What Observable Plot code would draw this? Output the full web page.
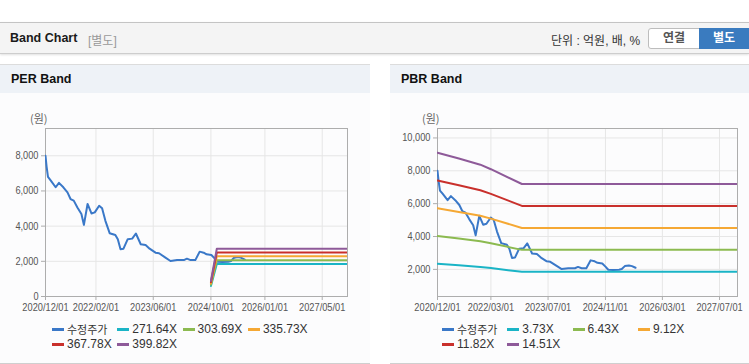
<!DOCTYPE html>
<html><head><meta charset="utf-8">
<script src="https://cdn.jsdelivr.net/npm/d3@7"></script>
<script src="https://cdn.jsdelivr.net/npm/@observablehq/plot@0.6"></script>
<style>
body{margin:0;width:749px;height:364px;background:#fff;position:relative;overflow:hidden;font-family:"Liberation Sans",Arial,"Noto Sans CJK KR",sans-serif;}
.abs{position:absolute;}
#hdr{left:0;top:22px;width:749px;height:30px;background:#f4f4f4;border-top:1px solid #c4c4c4;border-bottom:1px solid #cdcdcd;box-shadow:0 1px 2px rgba(0,0,0,0.12);}
.panel{top:64px;height:298px;background:#fcfcfd;border-top:1px solid #dcdcdc;border-bottom:1px solid #cfcfcf;}
.ptitle{position:absolute;left:0;top:0;right:0;height:28px;background:#eef2f7;}
.ptitle span{position:absolute;left:11px;top:7px;font-weight:bold;font-size:12.5px;color:#111;}
.unit{font-size:11px;color:#666;font-family:"Noto Sans CJK KR",sans-serif;}
.leg{font-size:12px;color:#333;display:flex;align-items:center;height:14px;}
.leg .sw{display:inline-block;width:12px;height:3px;margin-right:3px;}
.ko{font-family:"Noto Sans CJK KR",sans-serif;font-size:11px;}
.chart{position:absolute;top:100px;}
</style></head>
<body>
<div id="hdr" class="abs">
  <span class="abs" style="left:10px;top:8px;font-weight:bold;font-size:12.5px;color:#1a1a1a;">Band Chart</span>
  <span class="abs" style="left:88px;top:8px;font-size:12px;color:#999;">[별도]</span>
  <span class="abs" style="left:551px;top:8px;font-size:12px;color:#333;">단위 : 억원, 배, %</span>
  <div class="abs" style="left:648px;top:5px;width:50px;height:19px;background:#fff;border:1px solid #bdbdbd;border-radius:3px 0 0 3px;text-align:center;line-height:19px;font-size:12px;font-weight:bold;color:#555;">연결</div>
  <div class="abs" style="left:699px;top:5px;width:50px;height:21px;background:#3a7bbf;text-align:center;line-height:21px;font-size:12px;font-weight:bold;color:#fff;">별도</div>
</div>

<div class="abs panel" style="left:0;width:370px;"><div class="ptitle"><span>PER Band</span></div></div>
<div class="abs panel" style="left:390px;width:359px;"><div class="ptitle"><span>PBR Band</span></div></div>

<span class="abs unit" style="left:30px;top:110px;">(원)</span>
<span class="abs unit" style="left:422px;top:110px;">(원)</span>

<div id="perChart" class="chart" style="left:0;"></div>
<div id="pbrChart" class="chart" style="left:380px;"></div>
<div id="perLegend"></div>
<div id="pbrLegend"></div>

<script>
// ---- Data ----
const priceDates = ["2020-12-01","2020-12-10","2020-12-22","2021-01-15","2021-02-25","2021-03-25","2021-05-01","2021-06-05","2021-07-01","2021-07-28","2021-08-28","2021-10-01","2021-10-22","2021-11-22","2021-12-25","2022-01-22","2022-02-28","2022-03-25","2022-04-22","2022-05-28","2022-07-15","2022-08-05","2022-08-28","2022-09-22","2022-10-28","2022-12-05","2023-01-05","2023-02-15","2023-03-28","2023-05-01","2023-06-20","2023-07-20","2023-09-12","2023-10-25","2023-12-20","2024-02-15","2024-03-12","2024-04-12","2024-05-22","2024-06-28","2024-08-01","2024-08-25","2024-10-05","2024-11-01","2024-11-25","2025-01-05","2025-02-25","2025-03-20","2025-04-15","2025-05-20","2025-06-15","2025-07-15"];
const priceValues = [8000,7400,6800,6590,6210,6460,6210,5920,5540,5450,5060,4690,4070,5260,4720,4780,5160,5010,4300,3600,3500,3260,2690,2720,3260,3290,3580,2970,2930,2720,2490,2460,2210,2020,2070,2070,2150,2070,2070,2550,2490,2400,2360,2170,1980,1960,1980,2020,2200,2240,2200,2100];

const perBandDates = ["2024-10-01","2024-11-20","2027-12-01"];
const perLabels = ["271.64X","303.69X","335.73X","367.78X","399.82X"];
const per1 = [600,1847,1847];
const per2 = [670,2065,2065];
const per3 = [740,2283,2283];
const per4 = [810,2501,2501];
const per5 = [880,2719,2719];

const pbrBandDates = ["2020-12-01","2021-06-01","2021-12-01","2022-03-01","2022-11-20","2027-12-01"];
const pbrLabels = ["3.73X","6.43X","9.12X","11.82X","14.51X"];
const pbr1 = [2339,2249,2152,2081,1850,1850];
const pbr2 = [4032,3877,3710,3588,3189,3189];
const pbr3 = [5718,5499,5262,5089,4524,4524];
const pbr4 = [7411,7127,6820,6596,5863,5863];
const pbr5 = [9098,8750,8372,8097,7197,7197];

const perTicksX = ["2020-12-01","2022-02-01","2023-06-01","2024-10-01","2026-01-01","2027-05-01"];
const pbrTicksX = ["2020-12-01","2022-03-01","2023-07-01","2024-11-01","2026-03-01","2027-07-01"];
const perTicksY = [0,2000,4000,6000,8000];
const pbrTicksY = [2000,4000,6000,8000,10000];

const priceName = "수정주가";
const colors = ["#3a78c8","#1ab4c6","#8cba50","#f5a834","#c9302c","#8e5a99"];

// ---- Build ----
const parse = d3.utcParse("%Y-%m-%d");
const rows = (dates, vals, name) => dates.map((d,i)=>({date:parse(d), value:vals[i], name}));

function makeChart(bandDates, bandVals, labels, ticksX, ticksY, yDomain, width, marginLeft, marginRight){
  const data = rows(priceDates, priceValues, priceName);
  bandVals.forEach((v,i)=>data.push(...rows(bandDates, v, labels[i])));
  const names = [priceName, ...labels];
  const tx = ticksX.map(parse);
  return Plot.plot({
    width, height:220, marginTop:28, marginBottom:24, marginLeft, marginRight,
    style:{fontFamily:'"Liberation Sans",Arial,sans-serif', fontSize:"11px", color:"#555", background:"transparent", overflow:"visible"},
    x:{type:"utc", domain:[parse("2020-12-01"), parse("2027-12-01")]},
    y:{domain:yDomain},
    color:{domain:names, range:colors},
    marks:[
      Plot.gridX(tx, {stroke:"#e6e6e6", strokeOpacity:1}),
      Plot.gridY(ticksY, {stroke:"#e6e6e6", strokeOpacity:1}),
      Plot.frame({stroke:"#adadad"}),
      Plot.axisX(tx, {tickSize:4, tickPadding:3, tickFormat:d3.utcFormat("%Y/%m/%d"), stroke:"#adadad", fill:"#555", label:null, className:"axtext"}),
      Plot.axisY(ticksY, {tickSize:4, tickPadding:3, tickFormat:d3.format(","), stroke:"#adadad", fill:"#555", label:null, className:"axtext"}),
      Plot.line(data, {x:"date", y:"value", z:"name", stroke:"name", strokeWidth:2, clip:true})
    ]
  });
}

function condense(svg){
  svg.querySelectorAll("text").forEach(t=>{
    const len = t.getComputedTextLength();
    if (len > 0) {
      t.setAttribute("textLength", (len*0.84).toFixed(1));
      t.setAttribute("lengthAdjust", "spacingAndGlyphs");
    }
  });
}

const perSvg = makeChart(perBandDates, [per1,per2,per3,per4,per5], perLabels, perTicksX, perTicksY, [0,9550], 370, 45, 23);
document.getElementById("perChart").append(perSvg);
const pbrSvg = makeChart(pbrBandDates, [pbr1,pbr2,pbr3,pbr4,pbr5], pbrLabels, pbrTicksX, pbrTicksY, [350,10575], 369, 57, 12);
document.getElementById("pbrChart").append(pbrSvg);
condense(perSvg); condense(pbrSvg);

function legend(id, left, labels){
  const el = document.getElementById(id);
  const names = [priceName, ...labels];
  names.forEach((n,i)=>{
    const r = Math.floor(i/4), c = i%4;
    const d = document.createElement("div");
    d.className = "abs leg";
    d.style.left = (left + c*65.3) + "px";
    d.style.top = (322 + r*15) + "px";
    d.innerHTML = `<span class="sw" style="background:${colors[i]}"></span><span class="${i===0?'ko':''}">${n}</span>`;
    el.append(d);
  });
}
legend("perLegend", 52, perLabels);
legend("pbrLegend", 442, pbrLabels);
</script>
</body></html>
